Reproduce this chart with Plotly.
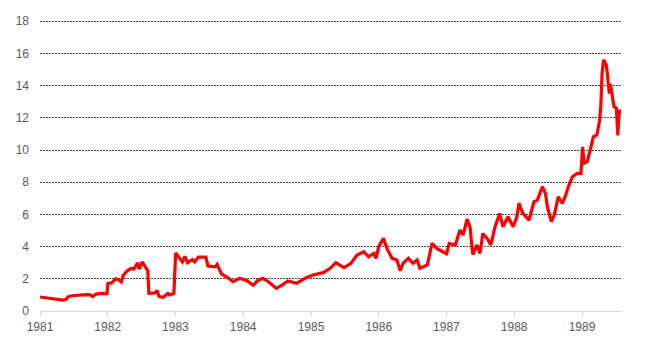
import plotly.graph_objects as go

dates = [
    "1981-01-01", "1981-01-28", "1981-03-06", "1981-04-08", "1981-05-05", "1981-05-21",
    "1981-06-01", "1981-06-22", "1981-08-04", "1981-09-06", "1981-09-28", "1981-10-13",
    "1981-10-30", "1981-12-01", "1981-12-28", "1982-01-02", "1982-01-22", "1982-02-14",
    "1982-02-28", "1982-03-15", "1982-03-25", "1982-04-16", "1982-05-08", "1982-05-22",
    "1982-06-11", "1982-06-20", "1982-07-06", "1982-07-25", "1982-08-05", "1982-08-11",
    "1982-09-13", "1982-09-24", "1982-10-05", "1982-10-27", "1982-11-22", "1982-12-01",
    "1982-12-24", "1983-01-02", "1983-01-27", "1983-02-08", "1983-02-21", "1983-03-08",
    "1983-04-02", "1983-04-15", "1983-05-05", "1983-06-14", "1983-06-25", "1983-08-04",
    "1983-08-14", "1983-09-06", "1983-10-13", "1983-11-07", "1983-12-14", "1984-01-22",
    "1984-02-24", "1984-03-20", "1984-04-16", "1984-05-13", "1984-06-28", "1984-07-28",
    "1984-08-29", "1984-10-15", "1984-11-29", "1985-01-11", "1985-03-08", "1985-04-14",
    "1985-05-15", "1985-06-28", "1985-08-04", "1985-09-06", "1985-10-13", "1985-11-07",
    "1985-12-06", "1985-12-17", "1986-01-01", "1986-01-26", "1986-02-14", "1986-03-14",
    "1986-04-09", "1986-04-27", "1986-05-12", "1986-06-10", "1986-07-05", "1986-07-27",
    "1986-08-11", "1986-09-20", "1986-10-15", "1986-11-10", "1986-12-12", "1987-01-01",
    "1987-01-16", "1987-02-18", "1987-03-15", "1987-04-01", "1987-04-22", "1987-05-08",
    "1987-05-23", "1987-06-14", "1987-07-01", "1987-07-16", "1987-08-14", "1987-08-28",
    "1987-09-20", "1987-10-15", "1987-11-02", "1987-11-29", "1987-12-27", "1988-01-16",
    "1988-01-27", "1988-02-17", "1988-03-21", "1988-04-17", "1988-05-05", "1988-06-01",
    "1988-06-18", "1988-06-28", "1988-07-19", "1988-08-04", "1988-08-26", "1988-09-16",
    "1988-10-02", "1988-10-19", "1988-11-10", "1988-12-06", "1988-12-26", "1989-01-04",
    "1989-01-12", "1989-01-29", "1989-02-14", "1989-03-03", "1989-03-22", "1989-04-05",
    "1989-04-12", "1989-04-19", "1989-04-27", "1989-05-12", "1989-05-18", "1989-05-28",
    "1989-06-03", "1989-06-12", "1989-06-22", "1989-07-05", "1989-07-13", "1989-07-20",
    "1989-07-29",
]
values = [
    0.87, 0.82, 0.78, 0.72, 0.68, 0.72,
    0.88, 0.95, 1.00, 1.02, 1.00, 0.90,
    1.05, 1.10, 1.08, 1.70, 1.75, 2.00,
    1.95, 1.80, 2.20, 2.50, 2.65, 2.60,
    3.00, 2.60, 3.05, 2.75, 2.50, 1.10,
    1.12, 1.28, 0.90, 0.85, 1.10, 1.00,
    1.10, 3.60, 3.20, 3.05, 3.40, 3.00,
    3.20, 3.05, 3.35, 3.35, 2.80, 2.75,
    2.90, 2.30, 2.05, 1.82, 2.03, 1.88,
    1.60, 1.90, 2.03, 1.85, 1.41, 1.60,
    1.86, 1.72, 2.03, 2.24, 2.38, 2.65,
    3.00, 2.70, 2.96, 3.48, 3.68, 3.37,
    3.58, 3.27, 4.00, 4.51, 3.89, 3.27,
    3.17, 2.50, 2.96, 3.27, 2.96, 3.17,
    2.65, 2.86, 4.20, 3.89, 3.68, 3.55,
    4.20, 4.10, 5.03, 4.72, 5.71, 5.23,
    3.50, 4.10, 3.58, 4.82, 4.41, 4.10,
    5.23, 6.06, 5.23, 5.85, 5.23, 5.85,
    6.69, 6.06, 5.65, 6.79, 6.89, 7.72,
    7.30, 6.48, 5.55, 5.96, 7.10, 6.69,
    7.10, 7.72, 8.34, 8.55, 8.55, 10.20,
    9.17, 9.27, 10.00, 10.82, 10.93, 11.80,
    12.70, 14.75, 15.60, 15.27, 14.65, 13.50,
    14.10, 13.30, 12.70, 12.60, 10.90, 12.50,
    12.20,
]

year_ticks = ["1981", "1982", "1983", "1984", "1985", "1986", "1987", "1988", "1989"]
y_ticks = [0, 2, 4, 6, 8, 10, 12, 14, 16, 18]

fig = go.Figure()
fig.add_trace(go.Scatter(
    x=dates, y=values, mode="lines",
    line=dict(color="#FF0000", width=3.2),
    hoverinfo="skip",
))

# the page body adds an 8px offset, so the figure is sized to compensate
fig.update_layout(
    width=639, height=342,
    margin=dict(l=32, r=26, t=10, b=39),
    paper_bgcolor="white", plot_bgcolor="white",
    showlegend=False,
    font=dict(family="Liberation Sans, Arial, sans-serif", size=12, color="#595959"),
    xaxis=dict(
        type="date",
        range=["1981-01-01", "1989-07-30"],
        tickvals=[y + "-01-01" for y in year_ticks],
        ticktext=year_ticks,
        showgrid=False, zeroline=False,
        showline=True, linecolor="#D9D9D9", linewidth=1,
        ticks="outside", ticklen=5, tickcolor="#D9D9D9", tickwidth=1,
        automargin=False,
    ),
    yaxis=dict(
        range=[0, 18.2],
        tickvals=y_ticks,
        showgrid=True, gridcolor="#444444", gridwidth=1, griddash="2px,1px",
        zeroline=False, showline=False, ticks="",
        ticklabelstandoff=10,
        automargin=False,
    ),
)

fig.write_html("out.html")
